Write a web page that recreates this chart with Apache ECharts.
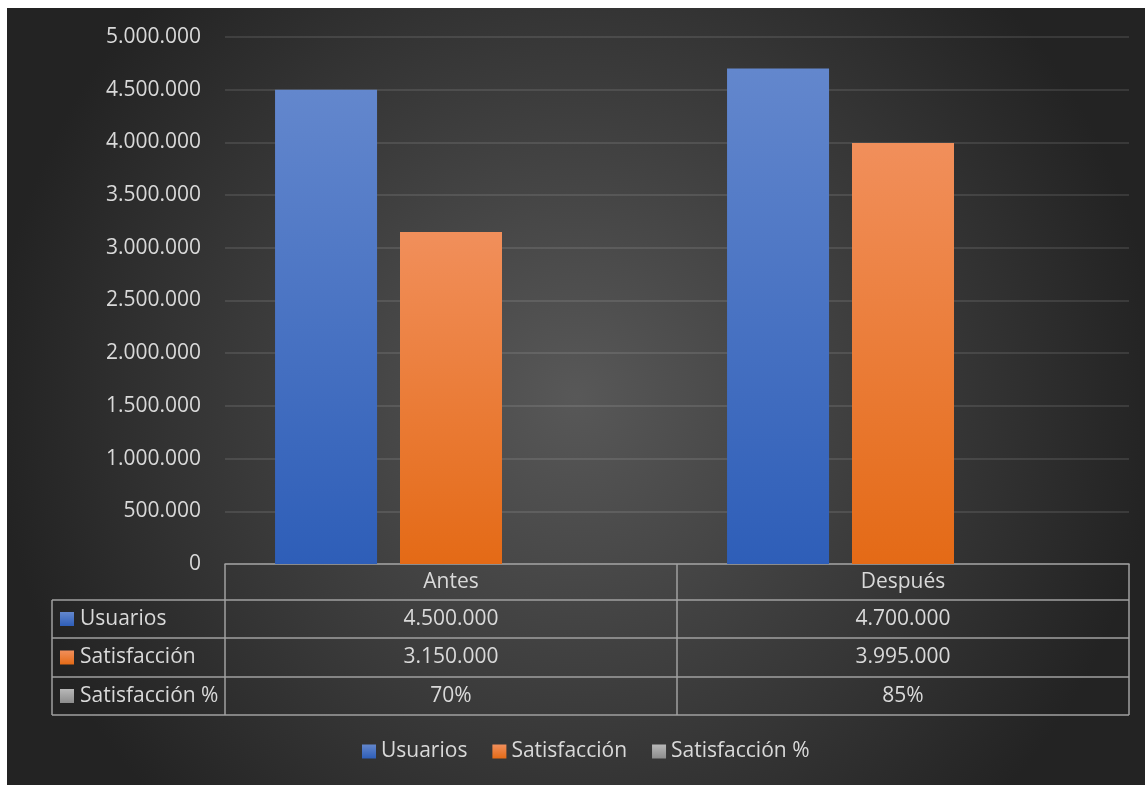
<!DOCTYPE html>
<html>
<head>
<meta charset="utf-8">
<script src="https://cdn.jsdelivr.net/npm/echarts@6/dist/echarts.min.js"></script>
<style>
    html, body { margin: 0; padding: 0; background: #fff; }
    #chart { position: absolute; left: 7px; top: 8px; width: 1138px; height: 777px; }
</style>
</head>
<body>
<div id="chart"></div>
<script>
    // datos
    const categories = ['Antes', 'Después'];
    const seriesNames = ['Usuarios', 'Satisfacción', 'Satisfacción %'];
    const usuarios = [4500000, 4700000];
    const satisfaccion = [3150000, 3995000];
    const satisfaccionPct = [0.70, 0.85];
    const yMin = 0, yMax = 5000000, yStep = 500000;

    const textColor = '#d9d9d9';
    const lineColor = '#a0a0a0';
    const font = '"Open Sans", sans-serif';
    const fontSize = 21;

    // layout (div coords)
    const W = 1138, H = 777;
    const gridLeft = 218, gridRight = 16, gridTop = 29, gridBottom = 221;
    const rowTops = [0, 36, 74, 113, 151];   // relative to the x axis line
    const labelColLeft = 45;

    function fmt(n){
        return n.toString().replace(/\B(?=(\d{3})+(?!\d))/g, '.');
    }
    function pct(v){
        return Math.round(v * 100) + '%';
    }
    function grad(top, bottom){
        return new echarts.graphic.LinearGradient(0, 0, 0, 1, [
            {offset: 0, color: top}, {offset: 1, color: bottom}
        ]);
    }
    const colors = [grad('#6387cd', '#2e5eb8'), grad('#f18f5b', '#e46a16'), grad('#b8b8b8', '#8c8c8c')];
    const shadow = {shadowBlur: 8, shadowColor: 'rgba(0,0,0,0.55)', shadowOffsetX: 2, shadowOffsetY: 2};

    let chart = echarts.init(document.getElementById('chart'));
    let option = {
        animation: false,
        grid: {left: gridLeft, right: gridRight, top: gridTop, bottom: gridBottom, containLabel: false},
        legend: {
            data: seriesNames,
            left: 350,
            top: 728,
            itemWidth: 14,
            itemHeight: 14,
            itemGap: 25,
            icon: 'rect',
            textStyle: {color: textColor, fontSize: fontSize, fontFamily: font}
        },
        xAxis: {
            type: 'category',
            data: categories,
            axisLine: {show: true, lineStyle: {color: lineColor, width: 1.5}},
            axisTick: {show: false},
            axisLabel: {show: false}
        },
        yAxis: {
            type: 'value',
            min: yMin, max: yMax, interval: yStep,
            axisLine: {show: false},
            axisTick: {show: false},
            splitLine: {lineStyle: {color: 'rgba(255,255,255,0.1)', width: 2}},
            axisLabel: {
                color: textColor, fontSize: fontSize, fontFamily: font, margin: 24,
                formatter: fmt
            }
        },
        series: [
            {name: seriesNames[0], type: 'bar', data: usuarios, barWidth: 102, barGap: '22.5%',
             itemStyle: Object.assign({color: colors[0]}, shadow)},
            {name: seriesNames[1], type: 'bar', data: satisfaccion, barWidth: 102, barGap: '22.5%',
             itemStyle: Object.assign({color: colors[1]}, shadow)},
            {name: seriesNames[2], type: 'bar', data: satisfaccionPct, barWidth: 102, barGap: '22.5%',
             itemStyle: {color: colors[2]}}
        ]
    };
    chart.setOption(option);

    // tabla de datos bajo el eje
    function buildTable(){
        let els = [];
        let axisY = chart.convertToPixel({yAxisIndex: 0}, 0);
        let centers = categories.map((c, i) => chart.convertToPixel({xAxisIndex: 0}, i));
        let xLeft = gridLeft, xRight = W - gridRight;
        let bounds = [xLeft];
        for (let i = 0; i < centers.length - 1; i++) bounds.push((centers[i] + centers[i + 1]) / 2);
        bounds.push(xRight);
        let ys = rowTops.map(r => axisY + r);
        let ls = {stroke: lineColor, lineWidth: 1.5};

        // horizontal lines
        for (let i = 1; i < ys.length; i++){
            els.push({type: 'line', shape: {x1: labelColLeft, y1: ys[i], x2: xRight, y2: ys[i]}, style: ls, silent: true});
        }
        // vertical lines
        els.push({type: 'line', shape: {x1: labelColLeft, y1: ys[1], x2: labelColLeft, y2: ys[4]}, style: ls, silent: true});
        bounds.forEach(b => {
            els.push({type: 'line', shape: {x1: b, y1: ys[0], x2: b, y2: ys[4]}, style: ls, silent: true});
        });
        // header
        categories.forEach((c, i) => {
            els.push({type: 'text', x: centers[i], y: (ys[0] + ys[1]) / 2, silent: true,
                style: {text: c, fill: textColor, font: fontSize + 'px ' + font, align: 'center', verticalAlign: 'middle'}});
        });
        // rows
        let rows = [usuarios.map(fmt), satisfaccion.map(fmt), satisfaccionPct.map(pct)];
        rows.forEach((vals, r) => {
            let cy = (ys[r + 1] + ys[r + 2]) / 2;
            els.push({type: 'rect', shape: {x: labelColLeft + 8, y: cy - 7, width: 14, height: 14},
                style: {fill: colors[r]}, silent: true});
            els.push({type: 'text', x: labelColLeft + 28, y: cy, silent: true,
                style: {text: seriesNames[r], fill: textColor, font: fontSize + 'px ' + font, align: 'left', verticalAlign: 'middle'}});
            vals.forEach((v, i) => {
                els.push({type: 'text', x: centers[i], y: cy, silent: true,
                    style: {text: v, fill: textColor, font: fontSize + 'px ' + font, align: 'center', verticalAlign: 'middle'}});
            });
        });
        // fondo
        els.unshift({type: 'rect', z: -100, silent: true, shape: {x: 0, y: 0, width: W, height: H},
            style: {fill: new echarts.graphic.RadialGradient(0.5, 0.5, 0.75, [
                {offset: 0, color: '#585858'}, {offset: 1, color: '#232323'}
            ])}});
        chart.setOption({graphic: {elements: els}});
    }
    buildTable();
</script>
</body>
</html>
